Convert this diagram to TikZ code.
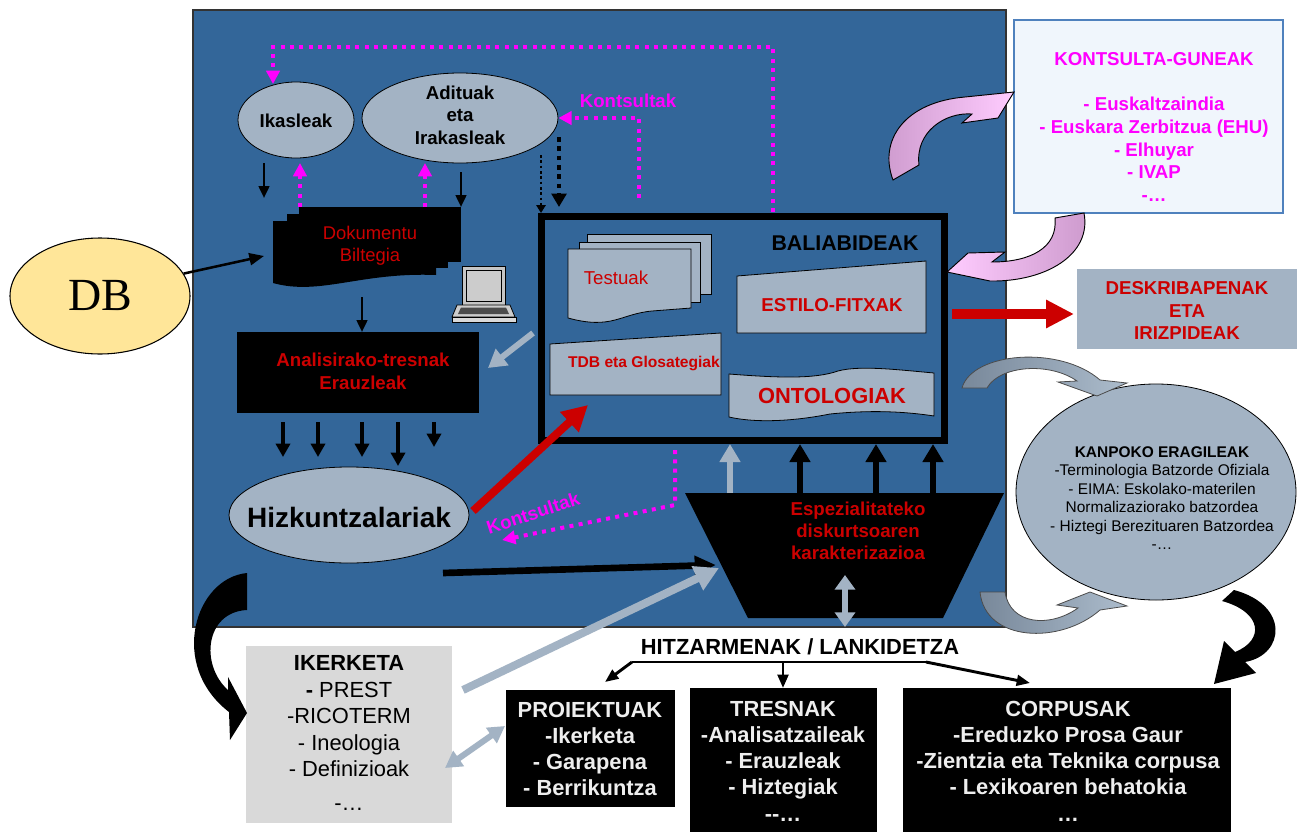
\documentclass[tikz,border=0pt]{standalone}
\usepackage{fontspec}
\setmainfont{Liberation Sans}
\newfontfamily\dbfont{Liberation Serif}
\usetikzlibrary{arrows.meta,shapes.geometric}
\definecolor{bgblue}{RGB}{51,102,153}
\definecolor{gblue}{RGB}{163,179,196}
\definecolor{dred}{RGB}{204,0,0}
\definecolor{mag}{RGB}{255,0,255}
\definecolor{dbyellow}{RGB}{255,230,153}
\definecolor{lgrey}{RGB}{217,217,217}
\definecolor{kfill}{RGB}{240,246,252}
\definecolor{kline}{RGB}{79,129,189}
\definecolor{pinkA}{RGB}{204,153,204}
\definecolor{pinkB}{RGB}{255,204,255}
\definecolor{greyA}{RGB}{120,136,154}
\definecolor{greyB}{RGB}{172,188,204}
\definecolor{wtext}{RGB}{238,238,238}
\newcommand{\fsz}[2]{\fontsize{#1pt}{#2pt}\selectfont}
\tikzset{
  ell/.style={ellipse, draw=black, line width=0.6pt, fill=gblue, inner sep=0},
  lbl/.style={inner sep=0, align=center},
  sheet/.style={fill=gblue, draw=black, line width=0.6pt},
  magdot/.style={draw=mag, line width=3pt, dash pattern=on 3pt off 4pt},
  magtip/.style={-{Triangle[length=10pt,width=10pt]}},
  blarr/.style={draw=black, line width=1.9pt, -{Triangle[length=9pt,width=8pt]}},
  downarr/.style={draw=black, line width=2.6pt, -{Triangle[length=10pt,width=10.5pt]}},
  uparr/.style={line width=5pt, -{Triangle[length=13.5pt,width=15pt]}},
  hitz/.style={draw=black, line width=2.2pt},
  hitzarr/.style={hitz, -{Triangle[length=10pt,width=8pt]}},
  blackbox/.style={fill=black, inner sep=0},
  curvebd/.style={draw=black, line width=0.7pt}
}
\begin{document}
\begin{tikzpicture}[x=0.75pt,y=-0.75pt]
\useasboundingbox (0,0) rectangle (1297,832);
\fill[white] (0,0) rectangle (1297,832);

% main blue panel
\filldraw[fill=bgblue, draw=black!80, line width=0.8pt] (193,10) rectangle (1006,627);

% top ellipses
\node[ell, minimum width=87pt, minimum height=57pt] (ikas) at (296,120) {};
\node[lbl, font=\fsz{14}{17}\bfseries] (ikast) at (296,121) {Ikasleak};
\node[ell, minimum width=147pt, minimum height=67.5pt] (adit) at (460,118) {};
\node[lbl, font=\fsz{14}{16.9}\bfseries] (aditt) at (460,115) {Adituak\\eta\\Irakasleak};

\node[lbl, text=mag, font=\fsz{14}{17}\bfseries] (kont1) at (628,101) {Kontsultak};

% BALIABIDEAK frame
\node[draw=black, line width=5.25pt, minimum width=302.25pt, minimum height=168pt, inner sep=0] (bal) at (742.5,328) {};
\node[lbl, font=\fsz{16}{19}\bfseries] (balt) at (845,243) {BALIABIDEAK};

% magenta consult paths
\coordinate (m1s) at (773,212);
\coordinate (m1e) at (273,84);
\draw[magdot, magtip] (m1s) -- (773,47) -| (m1e);
\coordinate (m2s) at (639,198);
\draw[magdot, magtip] (m2s) |- (adit.east);

% black dotted arrows
\coordinate (d1s) at (541,155); \coordinate (d1e) at (541,213);
\coordinate (d2s) at (559,137); \coordinate (d2e) at (559,207);
\draw[black, line width=2pt, dash pattern=on 2pt off 2pt, -{Triangle[length=6pt,width=7pt]}] (d1s) -- (d1e);
\draw[black, line width=3.5pt, dash pattern=on 3.5pt off 3.5pt, -{Triangle[length=10pt,width=11pt]}] (d2s) -- (d2e);

% Dokumentu Biltegia
\fill[black] (299,207) rectangle (461,262);
\fill[black] (287,214) rectangle (448,268);
\fill[black] (273,221) -- (436,221) -- (436,275) .. controls (360,272) and (320,296) .. (273,283) -- cycle;
\node[lbl, text=dred, font=\fsz{13.8}{16.5}] (dok) at (370,246) {Dokumentu\\Biltegia};

% arrows between ellipses and Dokumentu
\draw[blarr] (264,163) -- (264,198);
\draw[magdot, magtip] (300,207) -- (300,163);
\draw[magdot, magtip] (425,207) -- (425,163);
\draw[blarr] (461,172) -- (461,207);

% DB
\node[ellipse, draw=black, line width=0.8pt, fill=dbyellow, minimum width=135pt, minimum height=87pt, inner sep=0, font=\dbfont\fsz{34.5}{40}] (db) at (100,296) {DB};
\coordinate (dokin) at (264,256);
\draw[black, line width=1.9pt, -{Triangle[length=11pt,width=9pt]}] (db.15) -- (dokin);

% laptop
\filldraw[fill=gray!45, draw=black, line width=0.6pt] (462,266) rectangle (505,305);
\filldraw[fill=gray!40, draw=black, line width=0.5pt] (466,270) rectangle (501,301);
\filldraw[fill=gray!40, draw=black, line width=0.6pt] (457,305) -- (510,305) -- (515,317) -- (452,317) -- cycle;
\fill[black!70] (461,307.5) -- (506,307.5) -- (509,314) -- (458,314) -- cycle;
\filldraw[fill=gray!30, draw=black, line width=0.6pt] (452,317) rectangle (516,322);

% Analisirako
\node[blackbox, minimum width=181.5pt, minimum height=60.75pt] (anal) at (358,372.5) {};
\node[lbl, text=dred, font=\fsz{14}{17.3}\bfseries] (analt) at (363,371) {Analisirako-tresnak\\Erauzleak};
\draw[blarr] (362,297) -- (362,332);
\coordinate (g1s) at (533,333); \coordinate (g1e) at (488,368);
\draw[gblue, line width=4.5pt, -{Triangle[length=13.5pt,width=15pt]}] (g1s) -- (g1e);

% five arrows
\foreach \x/\y in {283/457,318/457,362/457,398/466,434/447}
  \draw[downarr] (\x,422) -- (\x,\y);

% Hizkuntzalariak
\node[ell, minimum width=180pt, minimum height=72pt] (hizk) at (349,515) {};
\node[lbl, font=\fsz{21}{25}\bfseries] (hizkt) at (349,517) {Hizkuntzalariak};
\coordinate (redtip) at (588,405);
\draw[dred, line width=6pt, -{Triangle[length=19pt,width=19.5pt]}] (473,511) -- (redtip);

% lower Kontsultak
\coordinate (m3s) at (675,450); \coordinate (m3e) at (502,540);
\draw[magdot, magtip] (m3s) -- (675,505) -- (m3e);
\node[lbl, text=mag, font=\fsz{14}{17}\bfseries, rotate=18] (kont2) at (533,513) {Kontsultak};

% contents of BALIABIDEAK
\filldraw[sheet] (587,234) rectangle (711,294);
\filldraw[sheet] (579,242) rectangle (700,302);
\filldraw[sheet] (568,249) -- (691,249) -- (691,308) -- (652,311) .. controls (620,314) and (612,330) .. (568,318) -- cycle;
\node[lbl, text=dred, font=\fsz{14}{17}] (testt) at (616,278) {Testuak};

\filldraw[sheet] (737,276) -- (926,261) -- (926,333) -- (737,333) -- cycle;
\node[lbl, text=dred, font=\fsz{14}{17}\bfseries] (estt) at (832,305) {ESTILO-FITXAK};

\filldraw[sheet] (550,344) -- (721,333) -- (721,395) -- (550,395) -- cycle;
\node[lbl, text=dred, font=\fsz{11.7}{14}\bfseries] (tdbt) at (644,363) {TDB eta Glosategiak};

\filldraw[sheet] (729,374) .. controls (780,378) and (815,379) .. (838,371) .. controls (860,365) and (900,370) .. (934,373) -- (934,416) .. controls (895,410) and (860,411) .. (830,414) .. controls (800,420) and (760,424) .. (729,417) -- cycle;
\node[lbl, text=dred, font=\fsz{16.4}{19}\bfseries] (ontt) at (832,396) {ONTOLOGIAK};

% trapezoid
\fill[black] (685,493) -- (1004,493) -- (943,618) -- (748,618) -- cycle;
\node[lbl, text=dred, font=\fsz{14}{16.5}\bfseries] (espt) at (858,531) {Espezialitateko\\diskurtsoaren\\karakterizazioa};

% up arrows
\draw[uparr, gblue] (730,493) -- (730,444);
\foreach \x in {800,876,933}
  \draw[uparr, black] (\x,493) -- (\x,444);

% arrows into trapezoid
\coordinate (bks) at (443,573); \coordinate (bke) at (716,565);
\draw[black, line width=5pt, -{Triangle[length=16pt,width=14pt]}] (bks) -- (bke);
\draw[gblue, line width=4.5pt, {Triangle[length=11pt,width=15pt]}-{Triangle[length=11pt,width=15pt]}] (845,575) -- (845,627);

% IKERKETA
\node[fill=lgrey, minimum width=154.5pt, minimum height=132.75pt, inner sep=0] (iker) at (349,734.5) {};
\node[lbl, font=\fsz{16.4}{19.9}] (ikert) at (349,733) {{\bfseries IKERKETA}\\{\bfseries -} PREST\\-RICOTERM\\- Ineologia\\- Definizioak\\[5pt]-…};
\coordinate (g2s) at (463,690); \coordinate (g2e) at (719,568);
\draw[gblue, line width=6pt, -{Triangle[length=18pt,width=19pt]}] (g2s) -- (g2e);

% HITZARMENAK
\node[lbl, font=\fsz{16.4}{20}\bfseries] (hitzt) at (800,647) {HITZARMENAK / LANKIDETZA};
\coordinate (hl) at (632,662); \coordinate (hm) at (783,662); \coordinate (hr) at (926,662);
\coordinate (hlt) at (605,682); \coordinate (hmt) at (783,688); \coordinate (hrt) at (1030,683);
\draw[hitz] (hl) -- (hr);
\draw[hitzarr] (hl) -- (hlt);
\draw[hitzarr] (hm) -- (hmt);
\draw[hitzarr] (hr) -- (hrt);

% bottom black boxes
\node[blackbox, minimum width=126.75pt, minimum height=87.75pt] (proi) at (590.5,748.5) {};
\node[lbl, text=wtext, font=\fsz{16.4}{19.5}\bfseries] (proit) at (590,749) {PROIEKTUAK\\-Ikerketa\\- Garapena\\- Berrikuntza};
\node[blackbox, minimum width=140.25pt, minimum height=108pt] (tres) at (783.5,760) {};
\node[lbl, text=wtext, font=\fsz{16.4}{19.7}\bfseries] (trest) at (783,761) {TRESNAK\\-Analisatzaileak\\- Erauzleak\\- Hiztegiak\\-{}-…};
\node[blackbox, minimum width=246pt, minimum height=108pt] (corp) at (1067,760) {};
\node[lbl, text=wtext, font=\fsz{16.4}{19.7}\bfseries] (corpt) at (1068,761) {CORPUSAK\\-Ereduzko Prosa Gaur\\-Zientzia eta Teknika corpusa\\- Lexikoaren behatokia\\…};

\coordinate (ip1) at (445,768); \coordinate (ip2) at (505,726);
\draw[gblue, line width=4.5pt, {Triangle[length=12.5pt,width=13.5pt]}-{Triangle[length=12.5pt,width=13.5pt]}] (ip1) -- (ip2);

% right side boxes
\node[fill=kfill, draw=kline, line width=0.8pt, minimum width=201.75pt, minimum height=144.75pt, inner sep=0] (kons) at (1148.5,116.5) {};
\node[lbl, text=mag, font=\fsz{14}{16.9}\bfseries] (konst) at (1154,127) {KONTSULTA-GUNEAK\\[16.9pt]- Euskaltzaindia\\- Euskara Zerbitzua (EHU)\\- Elhuyar\\- IVAP\\-…};

\node[fill=gblue, minimum width=165pt, minimum height=60pt, inner sep=0] (desk) at (1187,309) {};
\node[lbl, text=dred, font=\fsz{14}{16.9}\bfseries] (deskt) at (1187,310.5) {DESKRIBAPENAK\\ETA\\IRIZPIDEAK};
\coordinate (rs) at (952,314); \coordinate (re) at (1074,314);
\draw[dred, line width=7.5pt, -{Triangle[length=21pt,width=20pt]}] (rs) -- (re);

\node[ell, minimum width=210pt, minimum height=162pt] (kanp) at (1156,492) {};
\node[lbl, font=\fsz{11.6}{13.9}] (kanpt) at (1162,498) {{\bfseries KANPOKO ERAGILEAK}\\-Terminologia Batzorde Ofiziala\\- EIMA: Eskolako-materilen\\Normalizaziorako batzordea\\- Hiztegi Berezituaren Batzordea\\-…};

% curved block arrows
\path[curvebd, left color=pinkA, right color=pinkB] (893,180) .. controls (878,140) and (905,102) .. (965,97) -- (1014,92) -- (998,118) -- (962,123) -- (972,114) .. controls (945,112) and (915,132) .. (919,165) -- cycle;
\path[curvebd, left color=pinkB, right color=pinkA] (1084,213) .. controls (1092,255) and (1045,282) .. (990,281) -- (947,272) -- (968,253) -- (1005,252) -- (992,262) .. controls (1030,262) and (1058,248) .. (1055,218) -- cycle;
\path[draw=black!70, line width=0.6pt, left color=greyA, right color=greyB] (962,388) .. controls (972,352) and (1060,345) .. (1100,380) -- (1127,383) -- (1097,396) -- (1058,382) -- (1077,381) .. controls (1050,362) and (1000,365) .. (987,388) -- cycle;
\path[draw=black!70, line width=0.6pt, left color=greyA, right color=greyB] (980,592) .. controls (985,642) and (1060,645) .. (1100,610) -- (1127,606) -- (1090,592) -- (1057,605) -- (1078,608) .. controls (1050,628) and (1010,625) .. (1005,592) -- cycle;
\fill[black] (1222,601) -- (1234,590) .. controls (1290,605) and (1285,655) .. (1245,662) -- (1256,673) -- (1214,684) -- (1224,641) -- (1235,652) .. controls (1265,640) and (1262,612) .. (1222,601) -- cycle;
\fill[black] (247,573) .. controls (195,578) and (168,665) .. (229,712) -- (230,740) -- (247,713) -- (228,677) -- (228,690) .. controls (200,665) and (205,612) .. (247,610) -- cycle;
\end{tikzpicture}
\end{document}
